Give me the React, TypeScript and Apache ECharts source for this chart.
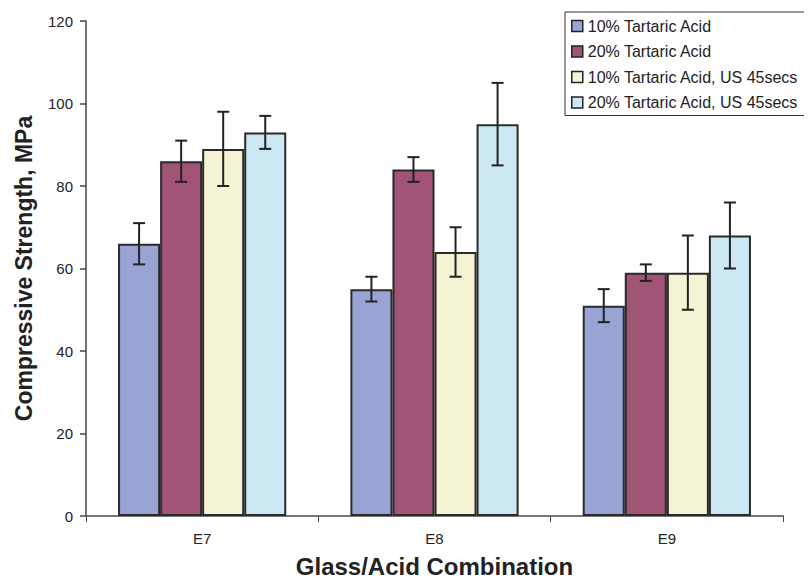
import React, { useEffect, useRef } from "react";
import * as echarts from "echarts";

const categories = ["E7", "E8", "E9"];
const seriesNames = [
  "10% Tartaric Acid",
  "20% Tartaric Acid",
  "10% Tartaric Acid, US 45secs",
  "20% Tartaric Acid, US 45secs",
];
const colors = ["#9aa4d4", "#a15476", "#f4f3d4", "#cce8f3"];
const values10 = [66, 55, 51];
const values20 = [86, 84, 59];
const values10US = [89, 64, 59];
const values20US = [93, 95, 68];
const low10 = [61, 52, 47];
const high10 = [71, 58, 55];
const low20 = [81, 81, 57];
const high20 = [91, 87, 61];
const low10US = [80, 58, 50];
const high10US = [98, 70, 68];
const low20US = [89, 85, 60];
const high20US = [97, 105, 76];
const yTicks = [0, 20, 40, 60, 80, 100, 120];

const allValues = [values10, values20, values10US, values20US];
const allLows = [low10, low20, low10US, low20US];
const allHighs = [high10, high20, high10US, high20US];

const CAT_GAP = 0.276;
const FONT = "Arial, 'Liberation Sans', Helvetica, sans-serif";

export default function App() {
  const ref = useRef<HTMLDivElement>(null);
  useEffect(() => {
    if (!ref.current) return;
    const chart = echarts.init(ref.current, undefined, { renderer: "svg" });
    const errData: number[][] = [];
    allLows.forEach((lows, s) => {
      lows.forEach((lo, c) => {
        errData.push([c, lo, allHighs[s][c], s]);
      });
    });
    const barSeries = allValues.map((vals, i) => ({
      name: seriesNames[i],
      type: "bar",
      data: vals,
      barGap: "0%",
      barCategoryGap: CAT_GAP * 100 + "%",
      itemStyle: { color: colors[i], borderColor: "#2a2a2a", borderWidth: 2 },
      emphasis: { disabled: true },
    }));
    const option: any = {
      animation: false,
      textStyle: { fontFamily: FONT },
      grid: { left: 86, right: 29, top: 21, bottom: 70, outerBoundsMode: "none", containLabel: false },
      legend: {
        orient: "vertical",
        left: 565,
        top: 12,
        padding: [6, 8, 5, 6],
        itemWidth: 11,
        itemHeight: 11,
        itemGap: 9.5,
        itemTextGap: 3,
        borderColor: "#333",
        borderWidth: 1,
        backgroundColor: "#fff",
        icon: "rect",
        itemStyle: { borderColor: "#222", borderWidth: 1.5 },
        textStyle: { fontSize: 16, lineHeight: 16, color: "#222", fontFamily: FONT },
        data: seriesNames,
      },
      xAxis: {
        type: "category",
        data: categories,
        name: "Glass/Acid Combination",
        nameLocation: "middle",
        nameGap: 38,
        nameTextStyle: { fontSize: 24, fontWeight: "bold", color: "#222", fontFamily: FONT },
        axisLine: { lineStyle: { color: "#777", width: 2 } },
        axisTick: { show: true, length: 6, lineStyle: { color: "#444", width: 1 } },
        axisLabel: { fontSize: 15, color: "#222", margin: 15, fontFamily: FONT },
        splitLine: { show: false },
      },
      yAxis: {
        type: "value",
        min: 0,
        max: 120,
        interval: 20,
        name: "Compressive Strength, MPa",
        nameLocation: "middle",
        nameGap: 51,
        nameTextStyle: { fontSize: 23, fontWeight: "bold", color: "#222", fontFamily: FONT },
        axisLine: { show: true, lineStyle: { color: "#444", width: 1.5 } },
        axisTick: { show: true, length: 6, lineStyle: { color: "#444", width: 1.5 } },
        axisLabel: {
          fontSize: 15,
          color: "#222",
          margin: 13,
          fontFamily: FONT,
          formatter: (v: number) => (yTicks.includes(v) ? String(v) : ""),
        },
        splitLine: { show: false },
      },
      series: [
        ...barSeries,
        {
          type: "custom",
          name: "errors",
          data: errData,
          encode: { x: 0, y: [1, 2] },
          z: 10,
          silent: true,
          renderItem: (params: any, api: any) => {
            const c = api.value(0);
            const lo = api.value(1);
            const hi = api.value(2);
            const s = api.value(3);
            const band = api.size([1, 0])[0];
            const bw = (band * (1 - CAT_GAP)) / 4;
            const center = api.coord([c, lo])[0];
            const x = center - 2 * bw + bw * (s + 0.5);
            const yLo = api.coord([c, lo])[1];
            const yHi = api.coord([c, hi])[1];
            const cap = 6;
            const style = { stroke: "#222", lineWidth: 2 };
            return {
              type: "group",
              children: [
                { type: "line", shape: { x1: x, y1: yLo, x2: x, y2: yHi }, style },
                { type: "line", shape: { x1: x - cap, y1: yLo, x2: x + cap, y2: yLo }, style },
                { type: "line", shape: { x1: x - cap, y1: yHi, x2: x + cap, y2: yHi }, style },
              ],
            };
          },
        },
      ],
    };
    chart.setOption(option);
    return () => chart.dispose();
  }, []);
  return <div ref={ref} style={{ width: 812, height: 586, margin: -8 }} />;
}
